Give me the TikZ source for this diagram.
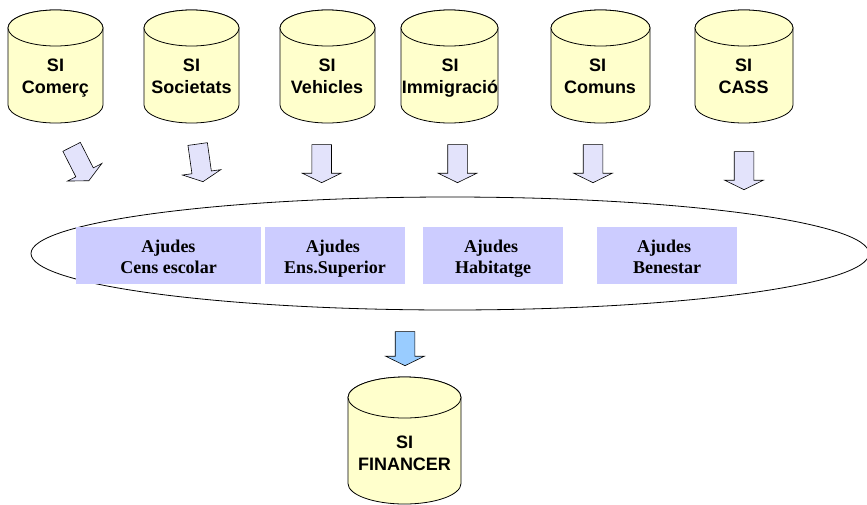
\documentclass[tikz,border=0pt]{standalone}
\usepackage{fontspec}
\setmainfont{Liberation Serif}
\setsansfont{Liberation Sans}
\usetikzlibrary{shapes.geometric, shapes.arrows}

\definecolor{dbyellow}{HTML}{FFFFCC}
\definecolor{boxblue}{HTML}{CCCCFF}
\definecolor{arrowlilac}{HTML}{E3E3FB}
\definecolor{arrowblue}{HTML}{99CCFF}

\tikzset{
    dbase/.style={draw=black, fill=dbyellow, line width=0.8pt},
    dbtext/.style={inner sep=0pt, align=center, anchor=base, font=\sffamily\bfseries\fontsize{18}{22}\selectfont},
    aid/.style={fill=boxblue, minimum height=57pt, inner sep=0pt, align=center,
        text height=46pt, text depth=10pt, font=\rmfamily\bfseries\fontsize{18}{21}\selectfont},
    feed/.style={single arrow, draw=black, fill=arrowlilac, line width=0.6pt, anchor=tip,
        inner xsep=0pt, inner ysep=9.5pt, minimum height=38pt,
        single arrow head extend=9.5pt, single arrow tip angle=128},
}

% centre x, centre y, half width, half height, radius of the lid
\newcommand{\dbdrum}[5]{
    \draw[dbase] ({#1-#3},{#2-#4+#5}) -- ({#1-#3},{#2+#4-#5})
        arc[start angle=180, end angle=0, x radius=#3, y radius=#5]
        -- ({#1+#3},{#2-#4+#5})
        arc[start angle=0, end angle=-180, x radius=#3, y radius=#5] -- cycle;
    \draw[dbase] (#1,{#2-#4+#5}) ellipse[x radius=#3, y radius=#5];
}

\begin{document}
\begin{tikzpicture}[x=1pt, y=-1pt]
    \useasboundingbox (0,0) rectangle (867,504);

    % Source systems
    \dbdrum{55.5}{66.5}{47.5}{56.5}{18}
    \node[dbtext] (comerc) at (55.5,93.5) {SI\\Comerç};
    \dbdrum{191.5}{66.5}{47.5}{56.5}{18}
    \node[dbtext] (societats) at (191.5,93.5) {SI\\Societats};
    \dbdrum{327.5}{66.5}{47.5}{56.5}{18}
    \node[dbtext] (vehicles) at (327,93.5) {SI\\Vehicles};
    \dbdrum{449.5}{66.5}{48.5}{56.5}{18}
    \node[dbtext] (immigracio) at (450,93.5) {SI\\Immigració};
    \dbdrum{600.5}{66.5}{49.5}{56.5}{18}
    \node[dbtext] (comuns) at (600,93.5) {\hspace*{-5pt}SI\\Comuns};
    \dbdrum{744}{66.5}{49}{56.5}{18}
    \node[dbtext] (cass) at (743.5,93.5) {SI\\CASS};

    % Arrows
    \node[feed, rotate=-63] (acomerc) at (89,181) {};
    \node[feed, rotate=-82] (asocietats) at (203,182) {};
    \node[feed, rotate=-90] (avehicles) at (321.7,183) {};
    \node[feed, rotate=-90] (aimmigracio) at (457.5,183) {};
    \node[feed, rotate=-90] (acomuns) at (593,183) {};
    \node[feed, rotate=-90] (acass) at (744,190) {};

    % Ellipse
    \node[ellipse, draw=black, line width=0.8pt, minimum width=838pt, minimum height=113pt, inner sep=0pt] (ajudes) at (450,253.5) {};

    % Boxes
    \node[aid, minimum width=185pt] (cens) at (168.5,255.5) {Ajudes\\Cens escolar};
    \node[aid, minimum width=140pt] (superior) at (335,255.5) {\hspace*{-4pt}Ajudes\\Ens.Superior};
    \node[aid, minimum width=140pt] (habitatge) at (493,255.5) {\hspace*{-4pt}Ajudes\\Habitatge};
    \node[aid, minimum width=140pt] (benestar) at (667,255.5) {\hspace*{-6pt}Ajudes\\Benestar};

    % Output
    \node[feed, fill=arrowblue, rotate=-90, minimum height=34pt] (afinancer) at (405,366) {};
    \dbdrum{404.5}{440.5}{56.5}{63.5}{20.5}
    \node[dbtext] (financer) at (404.5,470.5) {SI\\FINANCER};
\end{tikzpicture}
\end{document}
